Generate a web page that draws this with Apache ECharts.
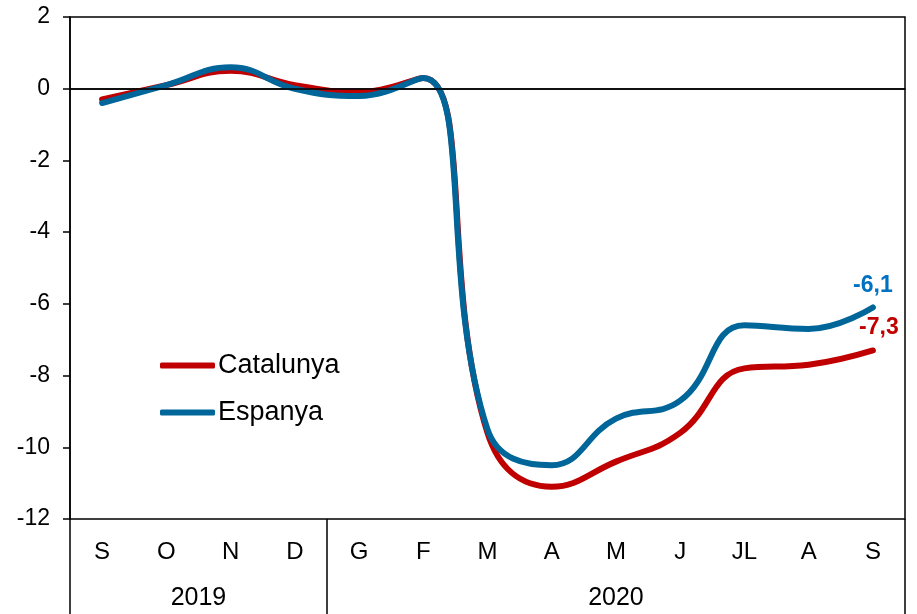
<!DOCTYPE html>
<html>
<head>
<meta charset="utf-8">
<script src="https://cdn.jsdelivr.net/npm/echarts@6/dist/echarts.min.js"></script>
<style>
  html, body { margin: 0; padding: 0; background: #fff; }
  #chart { width: 917px; height: 614px; }
</style>
</head>
<body>
<div id="chart"></div>
<script>
  // mesos, de setembre 2019 a setembre 2020
  const months = ['S', 'O', 'N', 'D', 'G', 'F', 'M', 'A', 'M', 'J', 'JL', 'A', 'S'];
  const catalunya = [-0.3, 0.1, 0.5, 0.1, -0.1, 0.3, -9.6, -11.1, -10.4, -9.6, -7.8, -7.7, -7.3];
  const espanya = [-0.4, 0.1, 0.6, 0.0, -0.2, 0.3, -9.5, -10.5, -9.2, -8.7, -6.6, -6.7, -6.1];
  // anys: [nom, primer mes, nombre de mesos]
  const years = [['2019', 0, 4], ['2020', 4, 9]];
  const yTicks = { min: -12, max: 2, interval: 2 };

  const font = 'Liberation Sans, Arial, sans-serif';
  const last = months.length - 1;
  const fmt = v => String(v).replace('.', ',');

  // posicions de les etiquetes i separadors dels anys (en unitats de mes)
  const yearCenters = years.map(y => y[1] + y[2] / 2);
  const yearBounds = [0].concat(years.map(y => y[1] + y[2]));

  const chart = echarts.init(document.getElementById('chart'));
  chart.setOption({
    animation: false,
    textStyle: { fontFamily: font },
    grid: {
      left: 70, right: 12, top: 17, bottom: 95,
      show: true, borderColor: '#000', borderWidth: 1.5, backgroundColor: 'transparent'
    },
    legend: {
      orient: 'vertical',
      left: 155,
      top: 347,
      itemGap: 20,
      itemWidth: 55,
      itemHeight: 6,
      icon: 'roundRect',
      textStyle: { color: '#000', fontSize: 27, fontFamily: font, padding: [0, 0, 0, -2] },
      data: ['Catalunya', 'Espanya']
    },
    xAxis: [
      {
        type: 'category',
        data: months,
        boundaryGap: true,
        axisLine: { lineStyle: { color: '#000', width: 1.5 } },
        axisTick: { show: false },
        axisLabel: { color: '#000', fontSize: 24, margin: 21, fontFamily: font }
      },
      {
        type: 'value',
        position: 'bottom',
        min: 0,
        max: months.length,
        axisLine: { show: false },
        splitLine: { show: false },
        axisTick: {
          show: true, customValues: yearBounds, length: 95,
          lineStyle: { color: '#000', width: 1.5 }
        },
        axisLabel: {
          show: true, customValues: yearCenters, margin: 67,
          color: '#000', fontSize: 25, fontFamily: font,
          formatter: v => {
            const i = yearCenters.indexOf(v);
            return i >= 0 ? years[i][0] : '';
          }
        }
      }
    ],
    yAxis: {
      type: 'value',
      min: yTicks.min,
      max: yTicks.max,
      interval: yTicks.interval,
      axisLine: { show: true, lineStyle: { color: '#000', width: 1.5 } },
      axisTick: { show: true, length: 7, lineStyle: { color: '#000', width: 1.5 } },
      axisLabel: { color: '#000', fontSize: 23, margin: 20, fontFamily: font },
      splitLine: { show: false }
    },
    series: [
      {
        name: 'Catalunya',
        type: 'line',
        data: catalunya,
        smooth: 0.45,
        symbol: 'circle',
        symbolSize: 1,
        showSymbol: true,
        lineStyle: { color: '#C00000', width: 6, cap: 'round' },
        itemStyle: { color: '#C00000' },
        label: {
          show: true, position: 'top', distance: 5, offset: [6, -6],
          color: '#C00000', fontSize: 23, fontWeight: 'bold', fontFamily: font,
          formatter: p => p.dataIndex === last ? fmt(p.value) : ''
        },
        markLine: {
          silent: true, symbol: 'none', label: { show: false },
          lineStyle: { color: '#000', width: 1.5, type: 'solid' },
          data: [{ yAxis: 0 }]
        }
      },
      {
        name: 'Espanya',
        type: 'line',
        data: espanya,
        smooth: 0.45,
        symbol: 'circle',
        symbolSize: 1,
        showSymbol: true,
        lineStyle: { color: '#006699', width: 6, cap: 'round' },
        itemStyle: { color: '#006699' },
        label: {
          show: true, position: 'top', distance: 5, offset: [0, -5],
          color: '#0070C0', fontSize: 23, fontWeight: 'bold', fontFamily: font,
          formatter: p => p.dataIndex === last ? fmt(p.value) : ''
        }
      }
    ]
  });
</script>
</body>
</html>
